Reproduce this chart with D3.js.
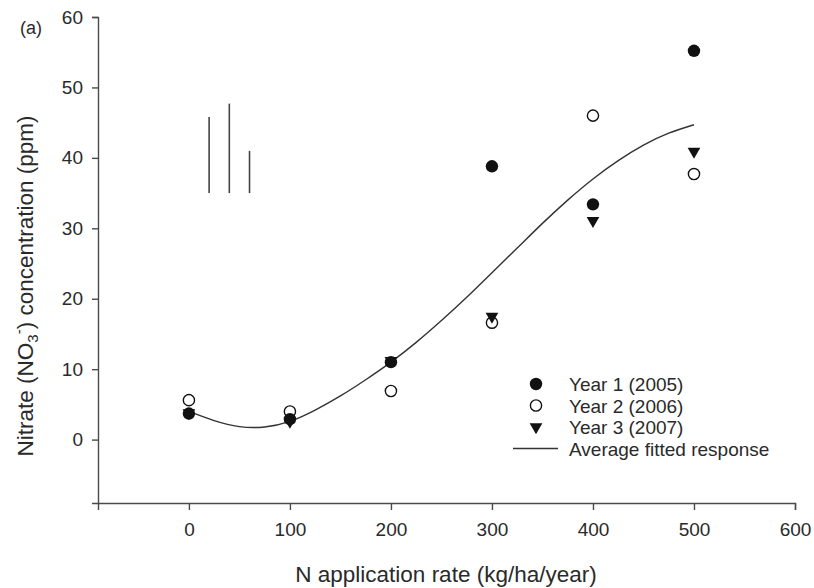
<!DOCTYPE html>
<html><head><meta charset="utf-8">
<script src="https://cdn.jsdelivr.net/npm/d3@7"></script>
<style>
html,body{margin:0;padding:0;background:#fff;}
svg{display:block;font-family:"Liberation Sans",Arial,sans-serif;}
</style></head>
<body>
<svg id="chart" width="814" height="588"></svg>
<script>
// ---- data ----
const rates = [0, 100, 200, 300, 400, 500];
const year1 = [3.7, 2.9, 11.0, 38.8, 33.4, 55.2];
const year2 = [5.6, 4.0, 6.9, 16.6, 46.0, 37.7];
const year3 = [3.8, 2.6, 11.2, 17.5, 31.1, 40.9];
const fitX = [0, 25, 50, 75, 100, 125, 150, 175, 200, 225, 250, 275, 300, 325, 350, 375, 400, 425, 450, 475, 500];
const fitY = [4.0, 2.7, 1.85, 1.8, 2.6, 4.2, 6.2, 8.5, 11.0, 13.8, 16.9, 20.2, 23.7, 27.2, 30.7, 34.0, 37.0, 39.6, 41.8, 43.5, 44.7];
const barX = [20, 40, 60];
const barLow = [35, 35, 35];
const barHigh = [45.8, 47.7, 41.0];
const xTicks = [0, 100, 200, 300, 400, 500, 600];
const yTicks = [0, 10, 20, 30, 40, 50, 60];
const legendLabels = ["Year 1 (2005)", "Year 2 (2006)", "Year 3 (2007)", "Average fitted response"];

const svg = d3.select("#chart");
const x = d3.scaleLinear().domain([-90, 600]).range([98, 795]);
const y = d3.scaleLinear().domain([-9, 60]).range([503, 17]);
const axisColor = "#4a4a4a", textColor = "#2a2a2a", markColor = "#111";

// axes
const gx = svg.append("g").attr("transform", "translate(0,503)")
  .call(d3.axisBottom(x).tickValues(xTicks).tickSizeOuter(0).tickSize(7).tickPadding(13).tickFormat(d3.format("d")));
const gy = svg.append("g").attr("transform", "translate(98,0)")
  .call(d3.axisLeft(y).tickValues(yTicks).tickSizeOuter(0).tickSize(6).tickPadding(9).tickFormat(d3.format("d")));
[gx, gy].forEach(g => {
  g.select(".domain").attr("stroke", axisColor).attr("stroke-width", 1.4);
  g.selectAll(".tick line").attr("stroke", axisColor).attr("stroke-width", 1.4);
  g.selectAll(".tick text").attr("fill", textColor).style("font-size", "19px")
    .style("font-family", '"Liberation Sans",Arial,sans-serif');
});

// range bars
svg.append("g").selectAll("line").data(barX).join("line")
  .attr("x1", d => x(d)).attr("x2", d => x(d))
  .attr("y1", (d, i) => y(barLow[i])).attr("y2", (d, i) => y(barHigh[i]))
  .attr("stroke", "#444").attr("stroke-width", 1.6);

// fitted curve
const line = d3.line().x(d => x(d[0])).y(d => y(d[1])).curve(d3.curveNatural);
svg.append("path").datum(fitX.map((v, i) => [v, fitY[i]]))
  .attr("d", line).attr("fill", "none").attr("stroke", "#333").attr("stroke-width", 1.4);

// markers
const tri = d3.symbol().type(d3.symbolTriangle).size(70);
function drawFilledCircles(vals) {
  svg.append("g").selectAll("circle").data(vals).join("circle")
    .attr("cx", (d, i) => x(rates[i])).attr("cy", d => y(d)).attr("r", 6.2).attr("fill", markColor);
}
function drawOpenCircles(vals) {
  svg.append("g").selectAll("circle").data(vals).join("circle")
    .attr("cx", (d, i) => x(rates[i])).attr("cy", d => y(d)).attr("r", 5.6)
    .attr("fill", "#fff").attr("stroke", markColor).attr("stroke-width", 1.4);
}
function drawTriangles(vals) {
  svg.append("g").selectAll("path").data(vals).join("path")
    .attr("d", tri)
    .attr("transform", (d, i) => `translate(${x(rates[i])},${y(d)}) rotate(180)`)
    .attr("fill", markColor);
}
drawOpenCircles(year2);
drawTriangles(year3);
drawFilledCircles(year1);

// legend
const lg = svg.append("g");
const rowY = [384, 405.5, 427, 448.5];
lg.append("circle").attr("cx", 536).attr("cy", rowY[0]).attr("r", 6.2).attr("fill", markColor);
lg.append("circle").attr("cx", 536).attr("cy", rowY[1]).attr("r", 5.6).attr("fill", "#fff").attr("stroke", markColor).attr("stroke-width", 1.4);
lg.append("path").attr("d", tri).attr("transform", `translate(536,${rowY[2]}) rotate(180)`).attr("fill", markColor);
lg.append("line").attr("x1", 513).attr("x2", 558).attr("y1", rowY[3]).attr("y2", rowY[3]).attr("stroke", "#333").attr("stroke-width", 1.4);
lg.selectAll("text").data(legendLabels).join("text")
  .attr("x", 569).attr("y", (d, i) => rowY[i] + 7)
  .attr("fill", textColor).style("font-size", "19px").text(d => d);

// panel label
svg.append("text").attr("x", 20).attr("y", 34).attr("fill", textColor).style("font-size", "18px").text("(a)");

// x title
svg.append("text").attr("x", 446).attr("y", 582).attr("text-anchor", "middle")
  .attr("fill", textColor).style("font-size", "22.5px").text("N application rate (kg/ha/year)");

// y title with sub/superscript
const yt = svg.append("text").attr("transform", "translate(33,286) rotate(-90)").attr("text-anchor", "middle")
  .attr("fill", textColor).style("font-size", "22.5px");
yt.append("tspan").text("Nitrate (NO");
yt.append("tspan").attr("dy", 5).style("font-size", "15px").text("3");
yt.append("tspan").attr("dy", -14).style("font-size", "15px").text("-");
yt.append("tspan").attr("dy", 9).text(") concentration (ppm)");
</script>
</body></html>
